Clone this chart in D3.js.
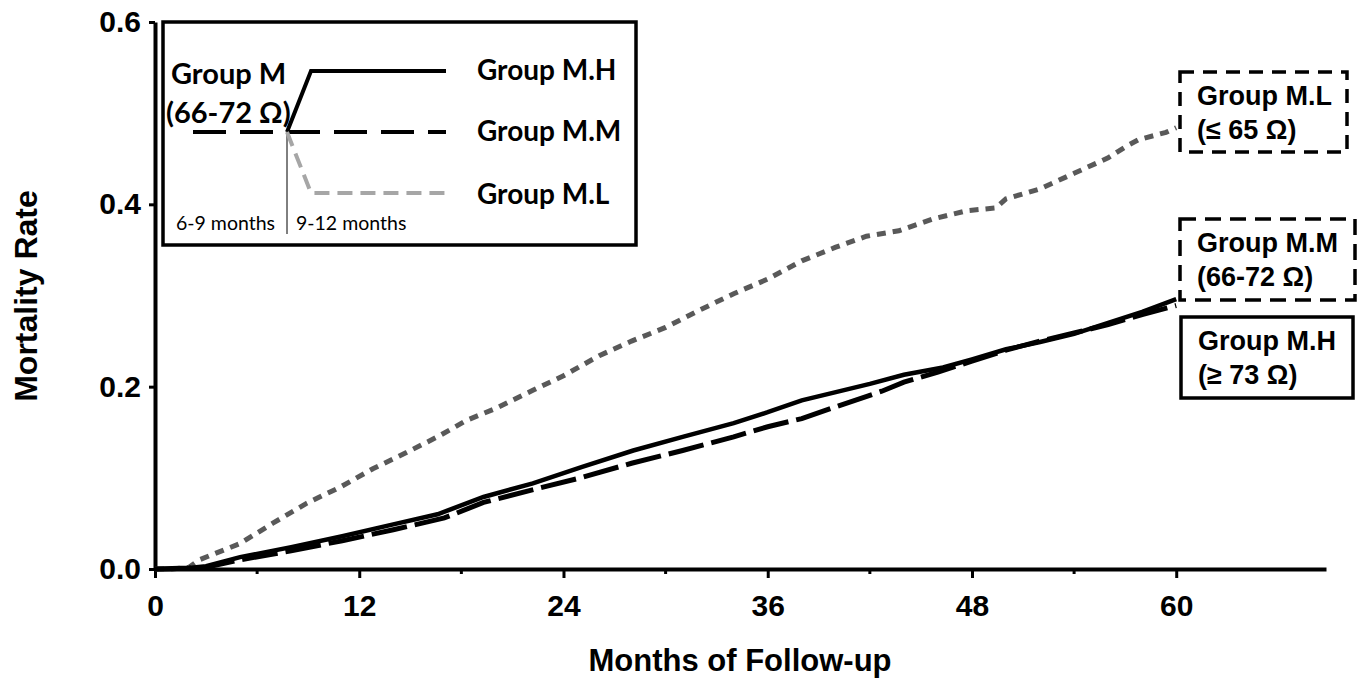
<!DOCTYPE html>
<html>
<head>
<meta charset="utf-8">
<script src="https://cdn.jsdelivr.net/npm/d3@7"></script>
<style>
  body { margin: 0; background: #fff; }
  text { font-family: "Liberation Sans", Arial, sans-serif; }
  .cal { font-family: Lato, "Open Sans", sans-serif; }
</style>
</head>
<body>
<div id="chart"></div>
<script>
// months of follow-up and cumulative mortality
var monthsH = [0, 1, 2, 3, 5, 8, 11, 14, 16.6, 19.3, 22.2, 25.1, 28.1, 31, 34, 36, 38, 40, 42, 44, 46.3, 48, 50, 52, 54, 56, 58, 60];
var rateH   = [0, 0, 0.001, 0.003, 0.013, 0.024, 0.036, 0.049, 0.060, 0.079, 0.094, 0.112, 0.130, 0.145, 0.160, 0.172, 0.185, 0.194, 0.203, 0.213, 0.221, 0.230, 0.241, 0.249, 0.258, 0.270, 0.282, 0.296];

var monthsM = [0, 2, 3, 5, 8, 11, 14, 17, 19.3, 22, 25, 28, 31, 34, 36, 38, 40, 42.7, 44, 46, 48, 50, 52, 54, 56, 58, 60];
var rateM   = [0, 0.001, 0.002, 0.010, 0.020, 0.031, 0.043, 0.056, 0.073, 0.086, 0.100, 0.116, 0.130, 0.145, 0.156, 0.165, 0.178, 0.195, 0.205, 0.216, 0.228, 0.240, 0.250, 0.259, 0.268, 0.279, 0.289];

var monthsL = [0, 1, 2, 2.6, 5, 6.9, 8.9, 10.9, 12.8, 14.8, 16.6, 18.3, 20, 22.2, 24, 26.1, 28, 30, 32, 34, 36, 38, 40, 41.8, 43.7, 45.7, 47.7, 49.4, 50, 52, 54, 56, 57.1, 57.8, 59.4, 60];
var rateL   = [0, 0, 0.002, 0.010, 0.028, 0.050, 0.072, 0.090, 0.110, 0.128, 0.145, 0.163, 0.176, 0.196, 0.212, 0.234, 0.250, 0.265, 0.284, 0.302, 0.318, 0.338, 0.353, 0.365, 0.371, 0.384, 0.393, 0.396, 0.406, 0.417, 0.434, 0.451, 0.464, 0.471, 0.479, 0.484];

var xTicks = [0, 12, 24, 36, 48, 60];
var xMinorTicks = [6, 18, 30, 42, 54];
var yTicks = [0, 0.2, 0.4, 0.6];

var svgWidth = 1366, svgHeight = 683;
var svg = d3.select("#chart").append("svg")
  .attr("width", svgWidth)
  .attr("height", svgHeight);

// scales: axis runs on to ~68.8 months
var xScale = d3.scaleLinear().domain([0, 68.8]).range([155, 1326]);
var yScale = d3.scaleLinear().domain([0, 0.6]).range([569, 22]);

// x axis
var xAxis = svg.append("g")
  .attr("transform", "translate(0,569)")
  .call(d3.axisBottom(xScale).tickValues(xTicks).tickSize(9).tickSizeOuter(0).tickPadding(17).tickFormat(d3.format("d")));
xAxis.select(".domain").attr("stroke-width", 4);
xAxis.selectAll(".tick line").attr("stroke-width", 3);
xAxis.selectAll(".tick text").attr("font-size", 30).attr("font-weight", "bold").attr("fill", "#000");
svg.append("g").selectAll("line").data(xMinorTicks).enter().append("line")
  .attr("x1", d => xScale(d)).attr("x2", d => xScale(d))
  .attr("y1", 569).attr("y2", 574)
  .attr("stroke", "#000").attr("stroke-width", 3);

// y axis
var yAxis = svg.append("g")
  .attr("transform", "translate(155,0)")
  .call(d3.axisLeft(yScale).tickValues(yTicks).tickSize(6).tickSizeOuter(0).tickPadding(8).tickFormat(d3.format(".1f")));
yAxis.select(".domain").attr("stroke-width", 4);
yAxis.selectAll(".tick line").attr("stroke-width", 3);
yAxis.selectAll(".tick text").attr("font-size", 30).attr("font-weight", "bold").attr("fill", "#000");

// axis titles
svg.append("text")
  .attr("x", 740).attr("y", 671)
  .attr("text-anchor", "middle")
  .attr("font-size", 31).attr("font-weight", "bold")
  .text("Months of Follow-up");
svg.append("text")
  .attr("transform", "translate(37,296) rotate(-90)")
  .attr("text-anchor", "middle")
  .attr("font-size", 32).attr("font-weight", "bold")
  .text("Mortality Rate");

// curves
var line = d3.line().x(d => xScale(d[0])).y(d => yScale(d[1]));
var series = [
  { m: monthsL, r: rateL, color: "#595959", width: 5, dash: "9,7" },
  { m: monthsM, r: rateM, color: "#000", width: 5, dash: "36,8" },
  { m: monthsH, r: rateH, color: "#000", width: 4.5, dash: null }
];
series.forEach(function(s) {
  svg.append("path")
    .datum(d3.zip(s.m, s.r))
    .attr("d", line)
    .attr("fill", "none")
    .attr("stroke", s.color)
    .attr("stroke-width", s.width)
    .attr("stroke-dasharray", s.dash);
});

// inset legend
var leg = svg.append("g");
leg.append("rect").attr("x", 163).attr("y", 22).attr("width", 473).attr("height", 223)
  .attr("fill", "#fff").attr("stroke", "#000").attr("stroke-width", 3.5);
leg.append("line").attr("x1", 287).attr("x2", 287).attr("y1", 132).attr("y2", 234)
  .attr("stroke", "#000").attr("stroke-width", 1);
leg.append("path").attr("d", "M193,132H446").attr("fill", "none")
  .attr("stroke", "#000").attr("stroke-width", 4).attr("stroke-dasharray", "33,14");
leg.append("path").attr("d", "M287,132L311,71H446").attr("fill", "none")
  .attr("stroke", "#000").attr("stroke-width", 4);
leg.append("path").attr("d", "M287,132L311,193H446").attr("fill", "none")
  .attr("stroke", "#a6a6a6").attr("stroke-width", 4).attr("stroke-dasharray", "15,8");
leg.append("text").attr("class", "cal").attr("x", 171).attr("y", 84)
  .attr("font-size", 29).attr("font-weight", "bold").text("Group M");
leg.append("text").attr("class", "cal").attr("x", 166).attr("y", 123)
  .attr("font-size", 29).attr("font-weight", "bold").text("(66-72 Ω)");
[["Group M.H", 80], ["Group M.M", 141], ["Group M.L", 204]].forEach(function(t) {
  leg.append("text").attr("class", "cal").attr("x", 477).attr("y", t[1])
    .attr("font-size", 28).attr("font-weight", "bold").text(t[0]);
});
leg.append("text").attr("class", "cal").attr("x", 176).attr("y", 230)
  .attr("font-size", 19.5).text("6-9 months");
leg.append("text").attr("class", "cal").attr("x", 296).attr("y", 230)
  .attr("font-size", 19.5).text("9-12 months");

// right-hand group labels
var boxes = [
  { x: 1180, y: 72, w: 167, h: 80, dash: "14,9", l1: "Group M.L", l2: "(≤ 65 Ω)" },
  { x: 1180, y: 219, w: 175, h: 81, dash: "16,9", l1: "Group M.M", l2: "(66-72 Ω)" },
  { x: 1181, y: 317, w: 172, h: 81, dash: null, l1: "Group M.H", l2: "(≥ 73 Ω)" }
];
boxes.forEach(function(b) {
  svg.append("rect").attr("x", b.x).attr("y", b.y).attr("width", b.w).attr("height", b.h)
    .attr("fill", "#fff").attr("stroke", "#000").attr("stroke-width", 3.5)
    .attr("stroke-dasharray", b.dash);
  svg.append("text").attr("x", b.x + 17).attr("y", b.y + 33)
    .attr("font-size", 27).attr("font-weight", "bold").text(b.l1);
  svg.append("text").attr("x", b.x + 17).attr("y", b.y + 67)
    .attr("font-size", 27).attr("font-weight", "bold").text(b.l2);
});
</script>
</body>
</html>
